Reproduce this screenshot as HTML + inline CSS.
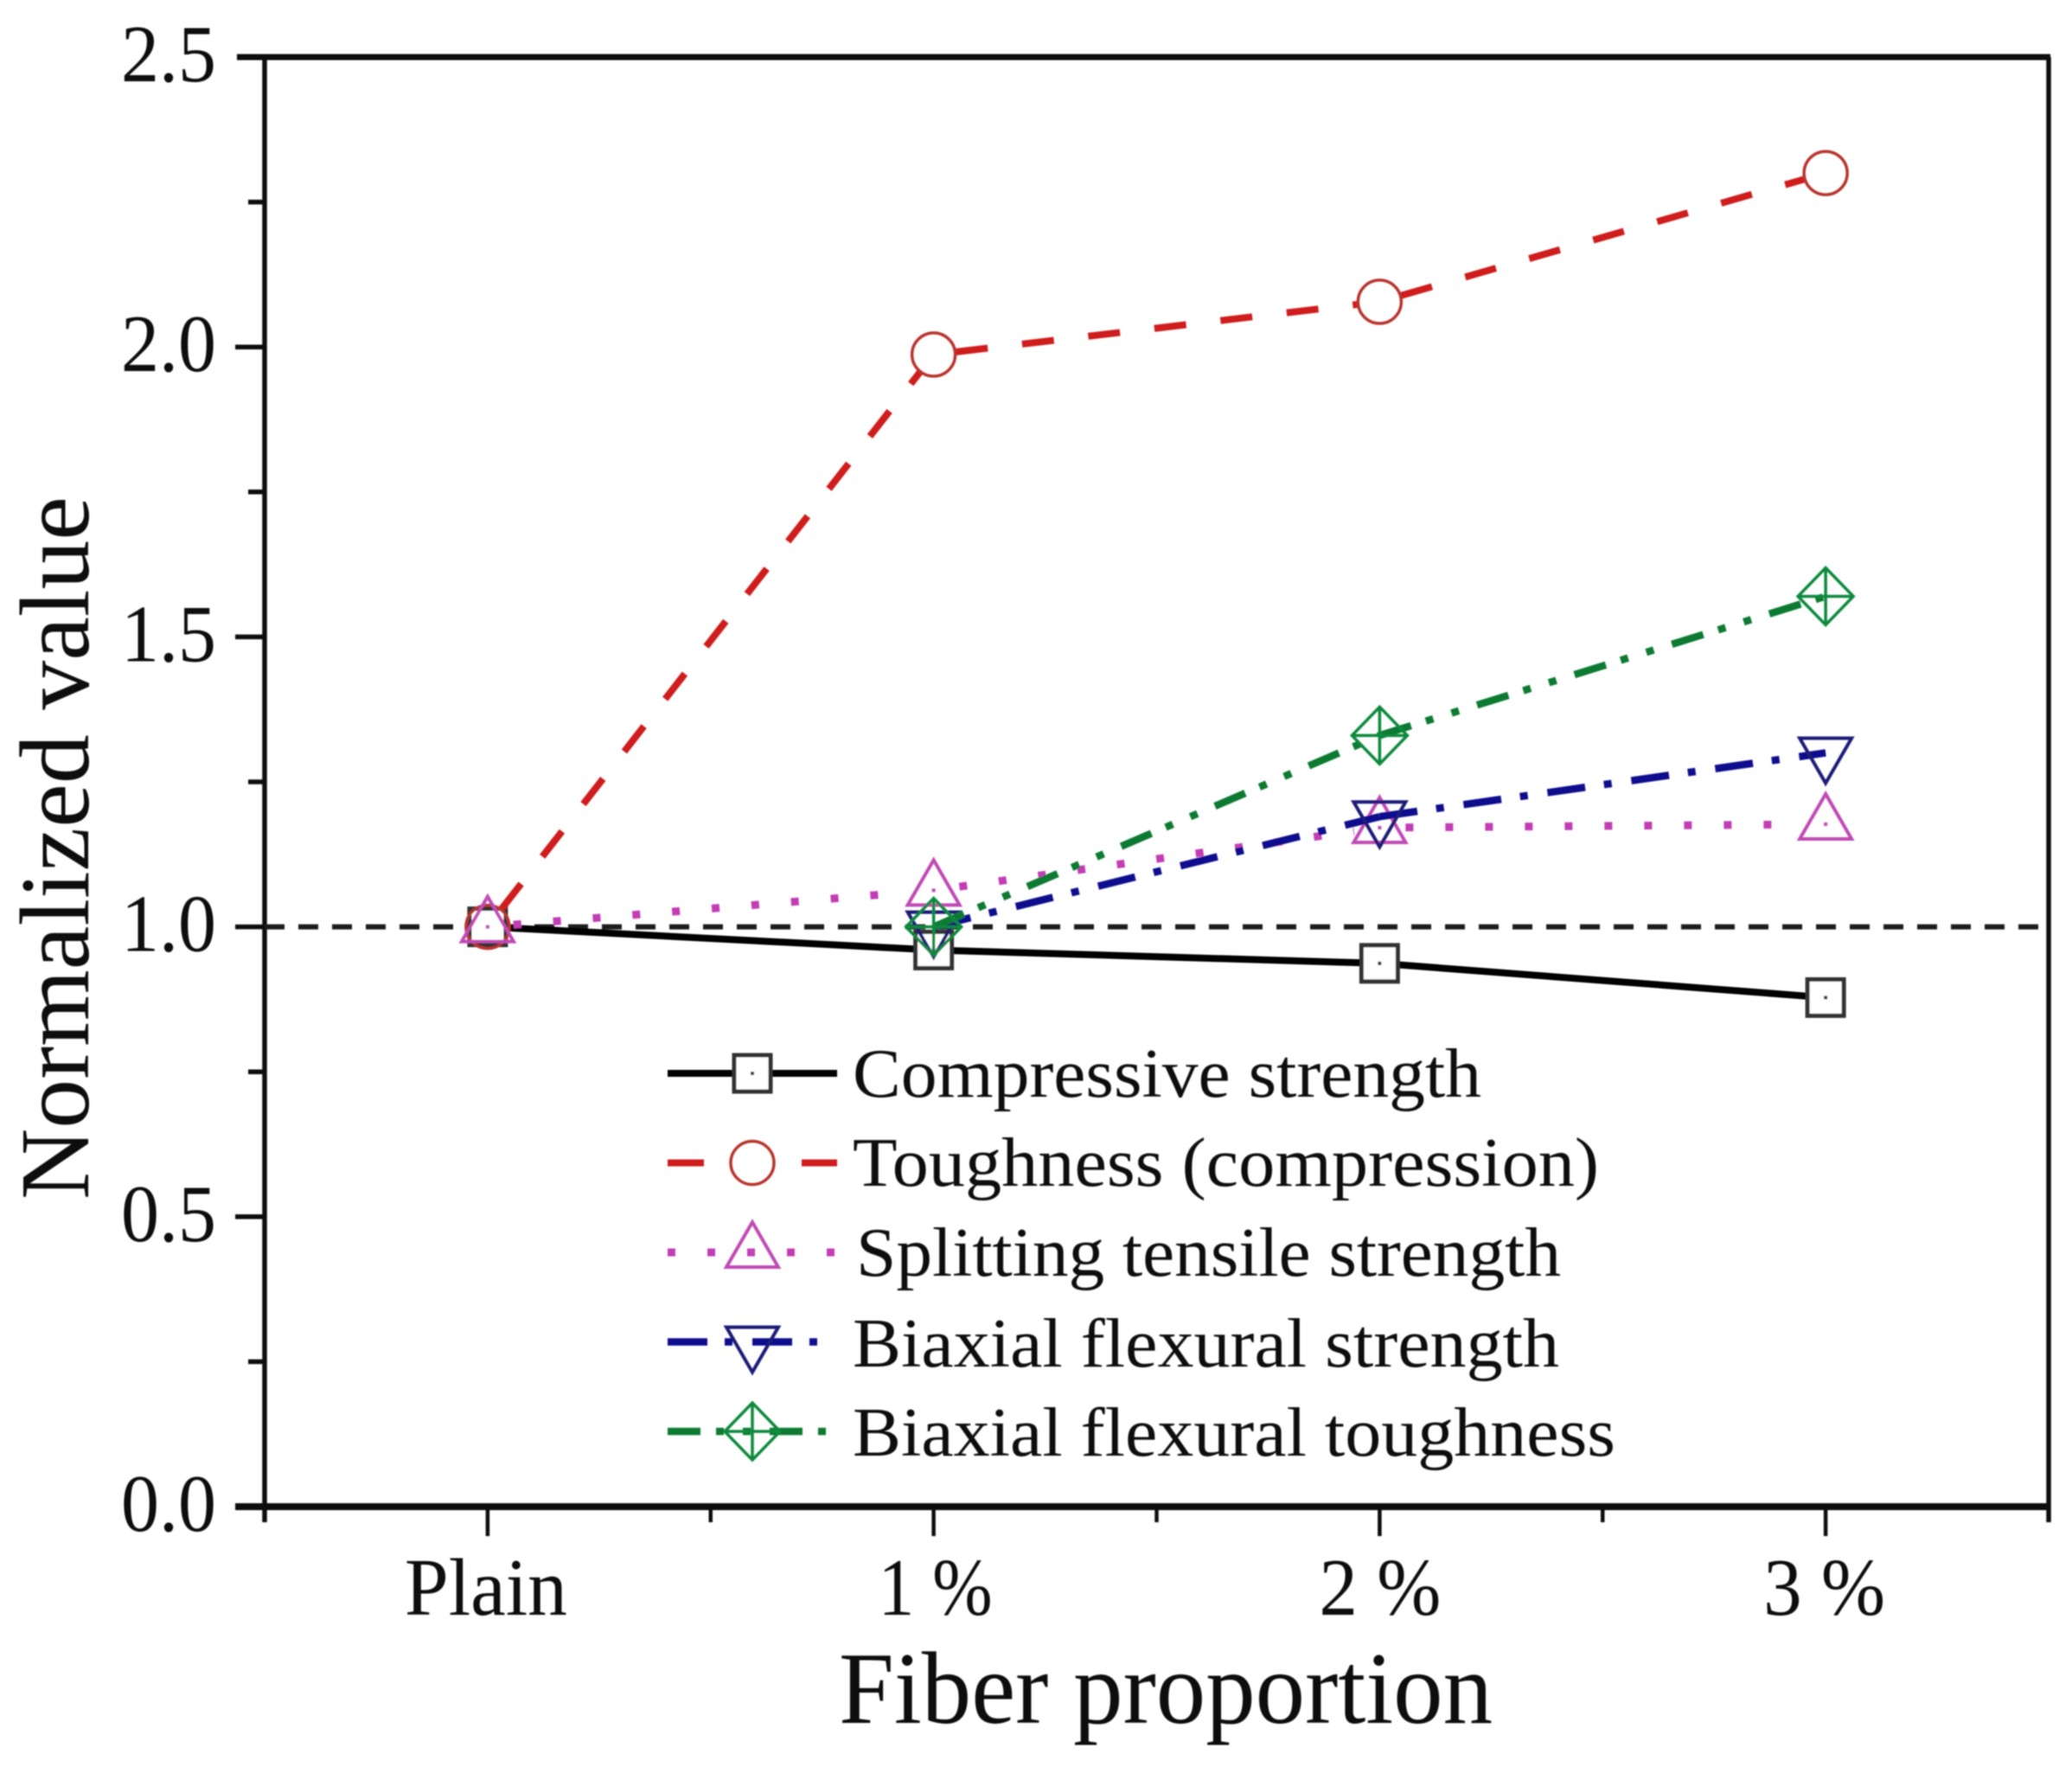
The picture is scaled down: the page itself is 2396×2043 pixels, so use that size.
<!DOCTYPE html>
<html lang="en">
<head>
<meta charset="utf-8">
<title>Normalized value vs fiber proportion</title>
<style>
html,body{margin:0;padding:0;background:#fff;width:2396px;height:2043px;overflow:hidden}
svg{display:block}
text{font-family:"Liberation Serif","Times New Roman",serif;fill:#111}
</style>
</head>
<body>
<svg id="chart" xmlns="http://www.w3.org/2000/svg" width="2396" height="2043" viewBox="0 0 2396 2043">
<defs><filter id="soft" x="-2%" y="-2%" width="104%" height="104%"><feGaussianBlur stdDeviation="0.9"/></filter></defs>
<rect width="2396" height="2043" fill="#fff"/>
<g id="root" filter="url(#soft)"></g>
</svg>
<script>
const categories = ['Plain', '1 %', '2 %', '3 %'];
const yTickValues = [0, 0.5, 1, 1.5, 2, 2.5];
const yTickLabels = ['0.0', '0.5', '1.0', '1.5', '2.0', '2.5'];
const yMinorTicks = [0.25, 0.75, 1.25, 1.75, 2.25];
const xMinorTicks = [-0.5, 0.5, 1.5, 2.5, 3.5];
const referenceValue = 1;
const compressive = [1, 0.96, 0.937, 0.878];
const toughness = [1, 1.987, 2.078, 2.30];
const splitting = [1, 1.063, 1.171, 1.177];
const biaxialStrength = [null, 1, 1.19, 1.30];
const biaxialToughness = [null, 1, 1.33, 1.57];

const NS = 'http://www.w3.org/2000/svg';
const root = document.getElementById('root');
const L = 306, R = 2369, T = 66, B = 1742;
const xScale = v => L + (v + 0.5) / 4 * (R - L);
const yScale = v => B - v / 2.5 * (B - T);

function make(tag, attrs, parent) {
  const el = document.createElementNS(NS, tag);
  for (const k in attrs) el.setAttribute(k, attrs[k]);
  (parent || root).appendChild(el);
  return el;
}
function label(str, x, y, size, len, parent, transform) {
  const el = make('text', {x: x, y: y, 'font-size': size, textLength: len, lengthAdjust: 'spacingAndGlyphs'}, parent);
  if (transform) el.setAttribute('transform', transform);
  el.textContent = str;
  return el;
}
function marker(type, cx, cy, color, parent) {
  const g = make('g', {fill: 'none', stroke: color, 'stroke-width': 3.5}, parent);
  if (type === 'square') {
    make('rect', {x: cx - 21, y: cy - 21, width: 42, height: 42, fill: '#fff', 'stroke-width': 5}, g);
    make('rect', {x: cx - 2, y: cy - 2, width: 4, height: 4, fill: color, stroke: 'none'}, g);
  } else if (type === 'circle') {
    make('circle', {cx: cx, cy: cy, r: 25}, g);
  } else if (type === 'up') {
    make('polygon', {points: (cx) + ',' + (cy - 35) + ' ' + (cx - 30) + ',' + (cy + 17) + ' ' + (cx + 30) + ',' + (cy + 17), 'stroke-width': 4}, g);
    make('rect', {x: cx - 2, y: cy - 2, width: 4, height: 4, fill: color, stroke: 'none'}, g);
  } else if (type === 'down') {
    make('polygon', {points: (cx) + ',' + (cy + 35) + ' ' + (cx - 30) + ',' + (cy - 17) + ' ' + (cx + 30) + ',' + (cy - 17), 'stroke-width': 4}, g);
  } else if (type === 'diamond') {
    make('polygon', {points: cx + ',' + (cy - 33) + ' ' + (cx + 32) + ',' + cy + ' ' + cx + ',' + (cy + 33) + ' ' + (cx - 32) + ',' + cy}, g);
    make('path', {d: 'M' + cx + ' ' + (cy - 33) + 'V' + (cy + 33) + 'M' + (cx - 32) + ' ' + cy + 'H' + (cx + 32)}, g);
  }
  return g;
}

// axes frame
const axes = make('g', {stroke: '#111', fill: 'none'});


const leftAxis = make('line', {x1: L, y1: T, x2: L, y2: B + 18, 'stroke-width': 5.5}, axes);


const rightAxis = make('line', {x1: R, y1: T, x2: R, y2: B + 18, 'stroke-width': 5.5}, axes);


const topAxis = make('line', {x1: 274, y1: T, x2: R + 2, y2: T, 'stroke-width': 7}, axes);


const bottomAxis = make('line', {x1: 272, y1: B, x2: R + 2, y2: B, 'stroke-width': 8}, axes);



// y ticks
yTickValues.forEach((v, i) => {
  const y = yScale(v);
  if (v !== 0 && v !== 2.5) {
    const t = make('line', {x1: 272, y1: y, x2: L, y2: y, 'stroke-width': 5.5}, axes);
    
    
  }
  const lab = label(yTickLabels[i], 140, y + 28, 94, 110);
  
  
});
yMinorTicks.forEach(v => {
  const y = yScale(v);
  const t = make('line', {x1: 287, y1: y, x2: L, y2: y, 'stroke-width': 5.5}, axes);
  
  
});

// x ticks
const xLabelWidths = [188, 132, 141, 141];
const xLabelOffsets = [-96, -64, -70, -72];
categories.forEach((c, i) => {
  const x = xScale(i);
  const t = make('line', {x1: x, y1: B, x2: x, y2: B + 34, 'stroke-width': 4.5}, axes);
  
  
  const lab = label(c, x + xLabelOffsets[i], 1867, 94, xLabelWidths[i]);
  
  
});
xMinorTicks.forEach(v => {
  const x = xScale(v);
  if (v === -0.5 || v === 3.5) return;
  const t = make('line', {x1: x, y1: B, x2: x, y2: B + 18, 'stroke-width': 4.5}, axes);
  
  
});

// titles
const xTitle = label('Fiber proportion', 970, 1992, 119, 756);


const yTitle = label('Normalized value', 0, 0, 114, 813, root, 'translate(102,1387) rotate(-90)');



// reference line
const refLine = make('line', {x1: L, y1: yScale(referenceValue), x2: R, y2: yScale(referenceValue), stroke: '#1a1a1a', 'stroke-width': 6, 'stroke-dasharray': '23 16'});



// series
const seriesList = [
  {key: 'compressive', title: 'Compressive strength', values: compressive, color: '#000', mColor: '#333', dash: '', legendDash: '', width: 8, gap: 22, type: 'square', textX: 986, textW: 727, base: 1268},
  {key: 'toughness', title: 'Toughness (compression)', values: toughness, color: '#cf1f1b', mColor: '#b8352f', dash: '37 40', legendDash: '42 113 42', width: 8, gap: 26, type: 'circle', textX: 986, textW: 863, base: 1371},
  {key: 'splitting', title: 'Splitting tensile strength', values: splitting, color: '#c23cb4', mColor: '#c04cb4', dash: '9 37', legendDash: '9 37', width: 9, gap: 30, type: 'up', textX: 990, textW: 815, base: 1475},
  {key: 'biaxial-strength', title: 'Biaxial flexural strength', values: biaxialStrength, color: '#08088e', mColor: '#1c1c78', dash: '44 22 9 23', legendDash: '46 20 9 23', width: 8.5, gap: 0, type: 'down', textX: 986, textW: 817, base: 1580},
  {key: 'biaxial-toughness', title: 'Biaxial flexural toughness', values: biaxialToughness, color: '#087a30', mColor: '#118a3e', dash: '38 18 9 22 9 22', legendDash: '38 18 9 22 9 22', width: 8.5, gap: 0, type: 'diamond', textX: 986, textW: 882, base: 1683}
];

seriesList.forEach(s => {
  const g = make('g', {});
  
  
  let d = '';
  for (let i = 0; i < s.values.length - 1; i++) {
    if (s.values[i] === null || s.values[i + 1] === null) continue;
    const x1 = xScale(i), y1 = yScale(s.values[i]), x2 = xScale(i + 1), y2 = yScale(s.values[i + 1]);
    const len = Math.hypot(x2 - x1, y2 - y1);
    const ux = (x2 - x1) / len, uy = (y2 - y1) / len;
    d += 'M' + (x1 + ux * s.gap) + ' ' + (y1 + uy * s.gap) + 'L' + (x2 - ux * s.gap) + ' ' + (y2 - uy * s.gap);
  }
  const path = make('path', {d: d, fill: 'none', stroke: s.color, 'stroke-width': s.width, 'stroke-dasharray': s.dash || 'none'}, g);
  
  
  s.values.forEach((v, i) => {
    if (v === null) return;
    const m = marker(s.type, xScale(i), yScale(v), s.mColor, g);
    
    
  });
});

// legend
const legend = make('g', {});


seriesList.forEach((s, i) => {
  const y = 1241 + 103.5 * i;
  const g = make('g', {}, legend);
  
  
  const ln = make('line', {x1: 772, y1: y, x2: 968, y2: y, stroke: s.color, 'stroke-width': s.width, 'stroke-dasharray': s.legendDash || 'none'}, g);
  
  
  const m = marker(s.type, 870, y, s.mColor, g);
  
  
  const t = label(s.title, s.textX, s.base, 80, s.textW, g);
  
  
});
</script>
</body>
</html>
